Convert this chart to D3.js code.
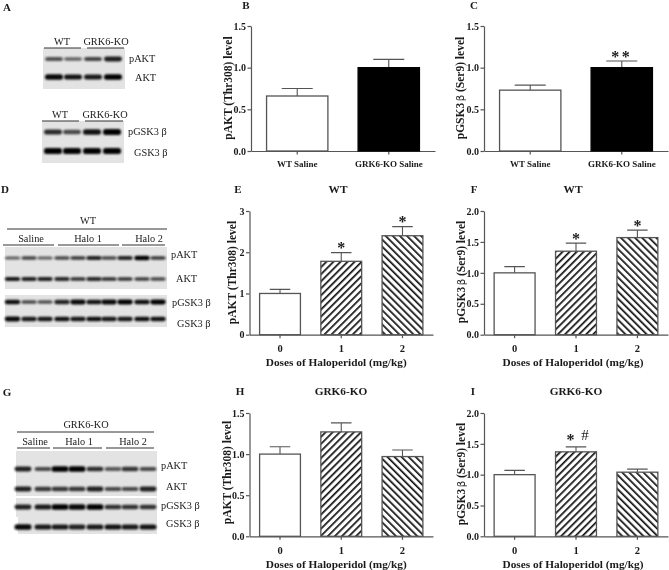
<!DOCTYPE html>
<html><head><meta charset="utf-8">
<script src="https://d3js.org/d3.v7.min.js"></script>
<style>html,body{margin:0;padding:0;background:#fff}svg{display:block;filter:blur(0.3px)}text{font-family:"Liberation Serif",serif;fill:#1a1a1a}</style>
</head><body><svg id="c" width="669" height="570"></svg>
<script>
// ---------- data ----------
const salineCats = ["WT Saline","GRK6-KO Saline"];
const doseCats = ["0","1","2"];
const bValues=[0.66,1.0], bTops=[0.75,1.1];
const cValues=[0.73,1.0], cTops=[0.79,1.08];
const eValues=[1.0,1.78,2.4], eTops=[1.1,1.99,2.62];
const fValues=[1.0,1.35,1.57], fTops=[1.1,1.48,1.69];
const hValues=[1.0,1.27,0.97], hTops=[1.09,1.38,1.05];
const iValues=[1.0,1.37,1.04], iTops=[1.07,1.45,1.09];
const ticks15=[0,0.5,1,1.5], ticks3=[0,1,2,3], ticks2=[0,0.5,1,1.5,2];
const cMarks=["","**"], eMarks=["","*","*"], fMarks=["","*","*"], iMarks=["","* #",""];
const noMarks=[];
// western-blot band strengths, one row per antibody, one number per lane
const blotA1=[[.5,.38,.58,.82],[.95,.9,.85,1]];
const blotA2=[[.75,.55,.9,1],[1,1,1,1]];
const blotD=[[.42,.58,.42,.55,.65,.8,.55,.78,1,.65],[.85,.8,.8,.75,.7,.75,.72,.68,.62,.55],[.92,.55,.5,.8,.95,.88,.95,1,.92,1],[.95,.85,.85,.9,.85,.9,.85,.85,.9,.9]];
const blotG=[[.8,.55,1,1,.72,.45,.68,.55],[.8,.65,.65,.65,.8,.55,.55,.8],[.8,.85,1,.95,1,.7,.7,.7],[.95,.85,.85,.8,.85,.9,.85,.9]];
// ---------- drawing ----------
const svg=d3.select("#c");
const defs=svg.append("defs");
const blur=defs.append("filter").attr("id","bandBlur").attr("x","-30%").attr("y","-80%").attr("width","160%").attr("height","260%");
blur.append("feGaussianBlur").attr("stdDeviation","1 0.8");
function hatch(id,angle){
  const p=defs.append("pattern").attr("id",id).attr("patternUnits","userSpaceOnUse").attr("width",5).attr("height",5).attr("patternTransform",`rotate(${angle})`);
  p.append("rect").attr("width",5).attr("height",5).attr("fill","#fff");
  p.append("rect").attr("width",1.7).attr("height",5).attr("fill","#111");
}
hatch("hatchUp",45); hatch("hatchDown",-45);

function txt(x,y,s,o={}){
  return svg.append("text").attr("x",x).attr("y",y).attr("dy","0.33em").attr("text-anchor",o.anchor||"middle")
    .attr("font-size",o.size||10).attr("font-weight",o.bold?"700":"400").text(s);
}
function bars(o){
  const g=svg.append("g");
  const y=d3.scaleLinear().domain([0,o.ticks[o.ticks.length-1]]).range([o.y0,o.y1]);
  const x=d3.scaleBand().domain(o.cats).range([o.x0,o.x1]).paddingInner(o.pi).paddingOuter(o.po);
  const yAxis=g.append("g").attr("transform",`translate(${o.x0},0)`)
    .call(d3.axisLeft(y).tickValues(o.ticks).tickSize(3.5).tickSizeOuter(0).tickPadding(1.5).tickFormat(o.fmt));
  const xAxis=g.append("g").attr("transform",`translate(0,${o.y0})`)
    .call(d3.axisBottom(x).tickSize(3.5).tickSizeOuter(0).tickPadding(o.xPad));
  [yAxis,xAxis].forEach(a=>{a.selectAll("path,line").attr("stroke","#555").attr("stroke-width",1.2);
    a.selectAll("text").attr("font-family","Liberation Serif").attr("font-weight","700").attr("fill","#1a1a1a");});
  yAxis.selectAll("text").attr("font-size",10);
  xAxis.selectAll("text").attr("font-size",o.xSize);
  o.cats.forEach((c,i)=>{
    const cx=x(c)+x.bandwidth()/2, bw=x.bandwidth(), cap=o.cap;
    g.append("path").attr("d",`M${cx},${y(o.values[i])}V${y(o.tops[i])}M${cx-cap/2},${y(o.tops[i])}H${cx+cap/2}`).attr("stroke","#555").attr("stroke-width",1.1).attr("fill","none");
    g.append("rect").attr("x",x(c)).attr("y",y(o.values[i])).attr("width",bw).attr("height",o.y0-y(o.values[i]))
      .attr("fill",o.fills[i]).attr("stroke",o.fills[i]==="#000"?"#000":"#555").attr("stroke-width",1.3);
    const m=o.marks[i];
    if(m==="* #"){
      g.append("text").attr("x",cx-5.5).attr("y",y(o.tops[i])-1.5).attr("text-anchor","middle").attr("font-size",16).attr("font-weight",700).text("*");
      g.append("text").attr("x",cx+9).attr("y",y(o.tops[i])-6.5).attr("text-anchor","middle").attr("font-size",15).text("#");
    } else if(m){
      g.append("text").attr("x",cx).attr("y",y(o.tops[i])+0.5).attr("text-anchor","middle").attr("font-size",16).attr("font-weight",700).attr("letter-spacing",m.length>1?"2.5px":"0").text(m);
    }
  });
  const t=svg.append("text").attr("transform",`translate(${o.titleX},${o.titleMid}) rotate(-90)`).attr("dy","0.33em").attr("text-anchor","middle").attr("font-size",11.5).attr("font-weight",700);
  o.yTitle.forEach(([s,beta])=>{const ts=t.append("tspan").text(s); if(beta)ts.attr("font-weight",400).attr("font-family","DejaVu Sans").attr("font-size",10).attr("dx",1.5);});
  if(o.xTitle) txt((o.x0+o.x1)/2-o.xTitleShift,o.y0+27.5,o.xTitle,{size:11.3,bold:true});
}
const akt=[["pAKT (Thr308) level"]];
const gsk=[["pGSK3"],["β",1],["  (Ser9) level"]];
const fmt1=d3.format(".1f"), fmt0=d3.format("d");
const layoutB={pi:.33,po:.17,cap:31,xSize:9,xPad:6,cats:salineCats,fills:["#fff","#000"]};
const layoutD={pi:1/3,po:.165,cap:20.5,xSize:10.5,xPad:6.5,cats:doseCats,fills:["#fff","url(#hatchUp)","url(#hatchDown)"]};
bars({...layoutB,x0:251,x1:435,y0:151,y1:26,ticks:ticks15,fmt:fmt1,values:bValues,tops:bTops,marks:noMarks,yTitle:akt,titleX:228,titleMid:88});
bars({...layoutB,x0:484,x1:668,y0:151,y1:26,ticks:ticks15,fmt:fmt1,values:cValues,tops:cTops,marks:cMarks,yTitle:gsk,titleX:460,titleMid:88});
bars({...layoutD,x0:249.5,x1:433,y0:334.7,y1:211,ticks:ticks3,fmt:fmt0,values:eValues,tops:eTops,marks:eMarks,yTitle:akt,titleX:232,titleMid:272.5,xTitle:"Doses of Haloperidol (mg/kg)",xTitleShift:5});
bars({...layoutD,x0:484,x1:668,y0:334.7,y1:211,ticks:ticks2,fmt:fmt1,values:fValues,tops:fTops,marks:fMarks,yTitle:gsk,titleX:461,titleMid:272,xTitle:"Doses of Haloperidol (mg/kg)",xTitleShift:3});
bars({...layoutD,x0:249.5,x1:433,y0:536.3,y1:413,ticks:ticks15,fmt:fmt1,values:hValues,tops:hTops,marks:noMarks,yTitle:akt,titleX:227,titleMid:472.5,xTitle:"Doses of Haloperidol (mg/kg)",xTitleShift:5});
bars({...layoutD,x0:484,x1:668,y0:536.3,y1:413,ticks:ticks2,fmt:fmt1,values:iValues,tops:iTops,marks:iMarks,yTitle:gsk,titleX:461,titleMid:474,xTitle:"Doses of Haloperidol (mg/kg)",xTitleShift:3});

// panel letters and titles
[["A",7,7],["B",246,5],["C",474,5],["D",5,189],["E",238,189],["F",474,189],["G",7,392],["H",240,391],["I",473,391]]
  .forEach(([s,x,y])=>txt(x,y,s,{size:11,bold:true}));
[["WT",338,189],["WT",573,189],["GRK6-KO",341,391],["GRK6-KO",576,391]].forEach(([s,x,y])=>txt(x,y,s,{size:11.3,bold:true}));

// blots
function blot(rect,rows,laneXs,rowYs,w,hs){
  const g=svg.append("g");
  g.append("rect").attr("x",rect[0]).attr("y",rect[1]).attr("width",rect[2]-rect[0]).attr("height",rect[3]-rect[1]).attr("fill","#e3e3e3");
  rows.forEach((r,ri)=>{
    g.selectAll(null).data(r).enter().append("rect")
      .attr("x",(d,i)=>laneXs[i]-w/2).attr("width",w)
      .attr("y",d=>rowYs[ri]-(hs*(.5+.6*d))/2).attr("height",d=>hs*(.5+.6*d))
      .attr("rx",2.5).attr("fill","#050505").attr("opacity",d=>.3+.7*d).attr("filter","url(#bandBlur)");
  });
}
function rule(x1,x2,y){svg.append("line").attr("x1",x1).attr("x2",x2).attr("y1",y).attr("y2",y).attr("stroke","#333").attr("stroke-width",1);}
function label(x,y,s,size){txt(x,y,s,{anchor:"start",size:size||10.3});}
const lanesA=[54,73,93,113];
blot([43,48,125,89],blotA1,lanesA,[59,77],18,5);
blot([42,121,124,163],blotA2,lanesA.map(d=>d-1),[132,151],18,5.5);
rule(44,81,48);rule(87,124,48);rule(42,79,121);rule(85,123,121);
txt(62,41.5,"WT",{size:10.3});txt(106,41.5,"GRK6-KO",{size:10.3});txt(60,114.5,"WT",{size:10.3});txt(105,114.5,"GRK6-KO",{size:10.3});
label(129,59,"pAKT");label(135,78,"AKT");label(128,132,"pGSK3 β");label(134,153,"GSK3 β");

const lanesD=[12.5,29,45,62,78,94,109,125,142,158];
blot([5,247,167,289],blotD.slice(0,2),lanesD,[258,279],15.5,4);
blot([5,295,167,327],blotD.slice(2),lanesD,[302,319],15.5,4.5);
rule(7,167,229);rule(3,54,245);rule(58,119,245);rule(122,165,245);
txt(88,221,"WT",{size:10.3});txt(31,239,"Saline",{size:10.3});txt(88,239,"Halo 1",{size:10.3});txt(149,239,"Halo 2",{size:10.3});
label(171,255,"pAKT");label(176,279,"AKT");label(172,303,"pGSK3 β");label(177,324,"GSK3 β");

const lanesG=[23,43,60,77,95,113,130,148];
blot([16,451,157,496],blotG.slice(0,2),lanesG,[469,489],17,5);
blot([16,498,157,517],blotG.slice(2,3),lanesG,[507],17,5);
blot([18,517,157,534],blotG.slice(3),lanesG,[527],17,5);
rule(17,154,432);rule(17,50,448);rule(53,102,448);rule(106,154,448);
txt(86,425,"GRK6-KO",{size:10.3});txt(35,442,"Saline",{size:10.3});txt(79,442,"Halo 1",{size:10.3});txt(133,442,"Halo 2",{size:10.3});
label(161,466,"pAKT");label(166,487,"AKT");label(161,506,"pGSK3 β");label(166,524,"GSK3 β");
</script></body></html>
